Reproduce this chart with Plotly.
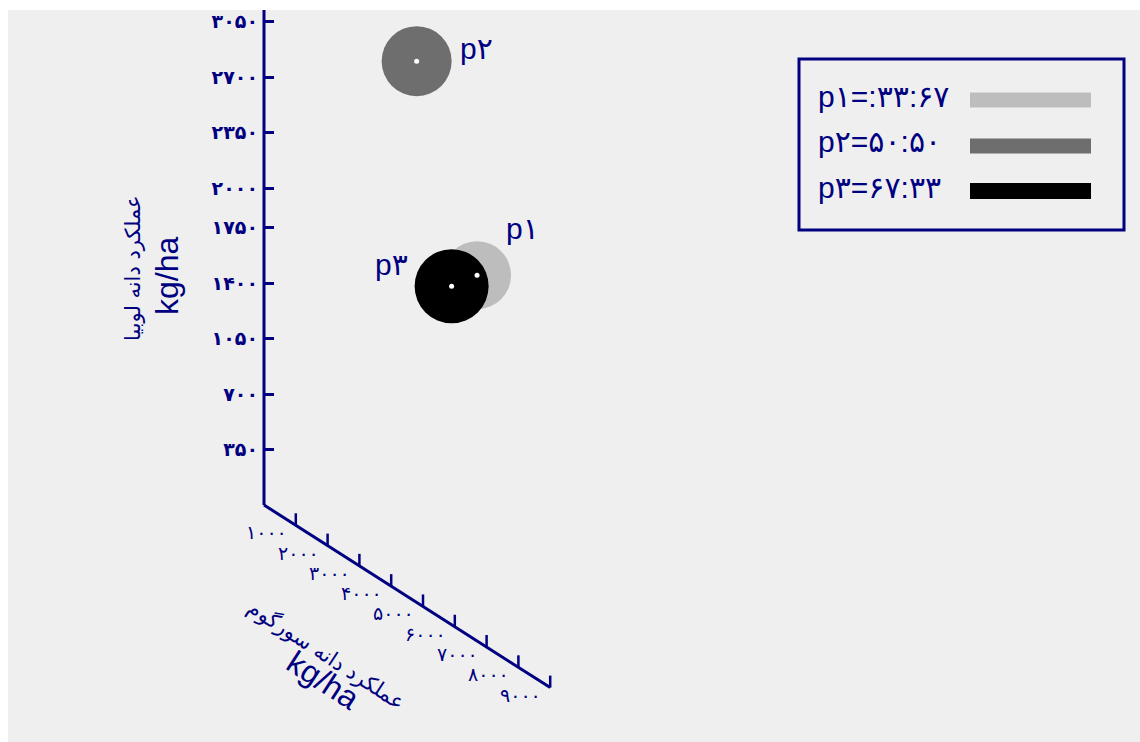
import plotly.graph_objects as go

# ---------------- data ----------------
series_names = ["p۱", "p۲", "p۳"]
legend_labels = ["p۱=:۳۳:۶۷", "p۲=۵۰:۵۰", "p۳=۶۷:۳۳"]
sorghum_yield = [6700, 4800, 5900]        # diagonal axis (kg/ha)
bean_yield = [1450, 2800, 1380]           # vertical axis (kg/ha)
series_colors = ["#bdbdbd", "#6e6e6e", "#000000"]

y_tick_values = [350, 700, 1050, 1400, 1750, 2000, 2350, 2700, 3050]
y_tick_labels = ["۳۵۰", "۷۰۰", "۱۰۵۰", "۱۴۰۰", "۱۷۵۰", "۲۰۰۰", "۲۳۵۰", "۲۷۰۰", "۳۰۵۰"]
x_tick_values = [1000, 2000, 3000, 4000, 5000, 6000, 7000, 8000, 9000]
x_tick_labels = ["۱۰۰۰", "۲۰۰۰", "۳۰۰۰", "۴۰۰۰", "۵۰۰۰", "۶۰۰۰", "۷۰۰۰", "۸۰۰۰", "۹۰۰۰"]
x_axis_end = 9000

y_title_fa = "عملکرد دانه لوبیا"
x_title_fa = "عملکرد دانه سورگوم"
unit_text = "kg/ha"

# ---------------- geometry / style ----------------
FIG_W, FIG_H = 1140, 742
ML, MT = 8, 10
PW, PH = FIG_W - ML, FIG_H - MT
SX = 0.0318          # px per kg/ha horizontally
X0PX = 264           # page px of origin
SY = 0.1585          # px per kg/ha vertically
Y0PX = 505
xmin = -(X0PX - ML) / SX
xmax = xmin + PW / SX
ymax = (Y0PX - MT) / SY
ymin = ymax - PH / SY
DIAG = -0.128        # oblique projection slope (data units)
NAVY = "#000080"
FONT = "Liberation Sans, DejaVu Sans, sans-serif"
FA_FONT = "DejaVu Sans, Noto Sans, sans-serif"


def px2paper(px, py):
    return (px - ML) / PW, (FIG_H - py) / PH


fig = go.Figure()

# vertical axis line
fig.add_trace(go.Scatter(x=[0, 0], y=[0, ymax], mode="lines",
                         line=dict(color=NAVY, width=3), hoverinfo="skip", showlegend=False))
# oblique axis line
fig.add_trace(go.Scatter(x=[0, x_axis_end], y=[0, DIAG * x_axis_end], mode="lines",
                         line=dict(color=NAVY, width=3), hoverinfo="skip", showlegend=False))
# oblique axis ticks
tx, ty = [], []
tick_up = 12 / SY
for v in x_tick_values:
    tx += [v, v, None]
    ty += [DIAG * v, DIAG * v + tick_up, None]
fig.add_trace(go.Scatter(x=tx, y=ty, mode="lines", line=dict(color=NAVY, width=2.5),
                         hoverinfo="skip", showlegend=False))

# circles
sizes = [68, 70, 74]
for name, xv, yv, c, s in zip(series_names, sorghum_yield, bean_yield, series_colors, sizes):
    fig.add_trace(go.Scatter(x=[xv], y=[yv], mode="markers", name=name,
                             marker=dict(size=s, color=c, line=dict(width=0)),
                             showlegend=False))
# white center dots
fig.add_trace(go.Scatter(x=sorghum_yield, y=bean_yield, mode="markers",
                         marker=dict(size=5, color="white"), hoverinfo="skip", showlegend=False))

annotations = []
# point labels
label_offsets = [(27, 47, "left"), (41, 13, "left"), (-42, 22, "right")]
for name, xv, yv, (dx, dy, anc) in zip(series_names, sorghum_yield, bean_yield, label_offsets):
    annotations.append(dict(x=xv, y=yv, xref="x", yref="y", text=name, showarrow=False,
                            xanchor=anc, yanchor="middle", xshift=dx, yshift=dy,
                            font=dict(family=FONT, size=30, color=NAVY)))

# oblique tick labels
for v, lab in zip(x_tick_values, x_tick_labels):
    annotations.append(dict(x=v, y=DIAG * v, xref="x", yref="y", text=lab, showarrow=False,
                            xanchor="right", yanchor="middle", xshift=-7, yshift=-7,
                            font=dict(family=FA_FONT, size=19, color=NAVY)))

# y title
xp, yp = px2paper(133, 268)
annotations.append(dict(x=xp, y=yp, xref="paper", yref="paper", text=y_title_fa, textangle=-90,
                        xanchor="center", yanchor="middle",
                        showarrow=False, font=dict(family=FA_FONT, size=21, color=NAVY)))
xp, yp = px2paper(167, 276)
annotations.append(dict(x=xp, y=yp, xref="paper", yref="paper", text=unit_text, textangle=-90,
                        xanchor="center", yanchor="middle",
                        showarrow=False, font=dict(family=FONT, size=32, color=NAVY)))
# x title
xp, yp = px2paper(326, 655)
annotations.append(dict(x=xp, y=yp, xref="paper", yref="paper", text=x_title_fa, textangle=33,
                        xanchor="center", yanchor="middle",
                        showarrow=False, font=dict(family=FA_FONT, size=21, color=NAVY)))
xp, yp = px2paper(323, 680)
annotations.append(dict(x=xp, y=yp, xref="paper", yref="paper", text=unit_text, textangle=33,
                        xanchor="center", yanchor="middle",
                        showarrow=False, font=dict(family=FONT, size=32, color=NAVY)))

# legend (manual)
shapes = []
bx0, by0 = px2paper(799, 230)
bx1, by1 = px2paper(1124, 59)
shapes.append(dict(type="rect", xref="paper", yref="paper", x0=bx0, y0=by0, x1=bx1, y1=by1,
                   line=dict(color=NAVY, width=3), fillcolor="rgba(0,0,0,0)"))
entry_y = [100, 146, 191]
entry_w = [15, 15, 16]
for lab, c, ey, w in zip(legend_labels, series_colors, entry_y, entry_w):
    x0, yy = px2paper(970, ey)
    x1, _ = px2paper(1091, ey)
    shapes.append(dict(type="line", xref="paper", yref="paper", x0=x0, y0=yy, x1=x1, y1=yy,
                       line=dict(color=c, width=w)))
    tx0, ty0 = px2paper(816, ey - 4)
    annotations.append(dict(x=tx0, y=ty0, xref="paper", yref="paper", text=lab, showarrow=False,
                            xanchor="left", yanchor="middle",
                            font=dict(family=FONT, size=30, color=NAVY)))

fig.update_layout(
    width=FIG_W, height=FIG_H,
    margin=dict(l=ML, r=0, t=MT, b=0),
    paper_bgcolor="white", plot_bgcolor="#efefef",
    showlegend=False,
    xaxis=dict(range=[xmin, xmax], visible=False, fixedrange=True),
    yaxis=dict(range=[ymin, ymax], anchor="free", position=(X0PX - ML) / PW, side="left",
               showline=False, showgrid=False, zeroline=False,
               ticks="inside", ticklen=9, tickwidth=3, tickcolor=NAVY,
               tickvals=y_tick_values, ticktext=y_tick_labels, ticklabelstandoff=6,
               tickfont=dict(family=FA_FONT, size=19, color=NAVY, weight="bold")),
    annotations=annotations, shapes=shapes,
)

fig.write_html("out.html")
